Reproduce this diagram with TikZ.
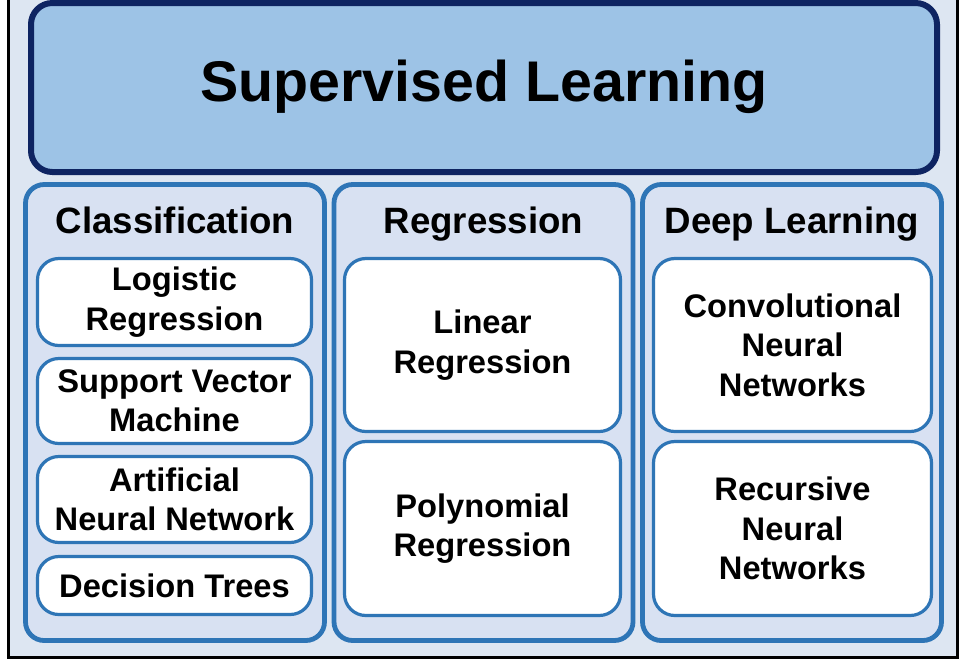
\documentclass[tikz,border=0pt]{standalone}
\usepackage{fontspec}
\setmainfont{Liberation Sans}
\usepackage{tikz}
\usetikzlibrary{positioning}
\definecolor{FrameFill}{RGB}{221,230,242}
\definecolor{TitleFill}{RGB}{157,195,230}
\definecolor{NavyDefault}{RGB}{14,36,98}
\definecolor{BlueDefault}{RGB}{46,117,182}
\definecolor{ColumnFill}{RGB}{216,225,242}

\begin{document}
\begin{tikzpicture}[x=0.75pt, y=-0.75pt,
    title/.style={draw=NavyDefault, line width=4.5pt, fill=TitleFill, rounded corners=16pt,
        minimum width=679.5pt, minimum height=126.75pt},
    titletext/.style={anchor=base, font=\fontsize{43}{50}\selectfont\bfseries},
    column/.style={draw=BlueDefault, line width=3.6pt, fill=ColumnFill, rounded corners=14pt,
        minimum width=224.25pt, minimum height=342pt},
    heading/.style={anchor=base, font=\fontsize{27.5}{32}\selectfont\bfseries},
    method/.style={draw=BlueDefault, line width=2.4pt, fill=white, rounded corners=16pt,
        align=center, inner sep=0pt, font=\fontsize{24.5}{29.5}\selectfont\bfseries}]
    \useasboundingbox (0,0) rectangle (971,669);
    %%Frame
    \draw[line width=2.25pt, fill=FrameFill] (8.5,-20) rectangle (957.5,657.5);
    %%Title
    \node[title] (supervised) at (484,87.5) {};
    \node[titletext] (supervisedtext) at (484,101) {Supervised Learning};
    %%Columns
    \node[column] (classification) at (175,412.5) {};
    \node[column] (regression) at (483.5,412.5) {};
    \node[column] (deep) at (792,412.5) {};
    \node[heading] (classhead) at (175,233) {Classification};
    \node[heading] (reghead) at (483.5,233) {Regression};
    \node[heading] (deephead) at (792,233) {Deep Learning};
    %%Classification methods
    \node[method, minimum width=205.5pt, minimum height=65.25pt] (logistic) at (174.5,302) {Logistic\\Regression};
    \node[method, minimum width=205.5pt, minimum height=63.75pt] (svm) at (174.5,401) {Support Vector\\Machine};
    \node[method, minimum width=205.5pt, minimum height=64.5pt] (ann) at (174.5,499.5) {Artificial\\Neural Network};
    \node[method, minimum width=205.5pt, minimum height=43.5pt] (trees) at (174.5,585.5) {Decision Trees};
    %%Regression methods
    \node[method, minimum width=207pt, minimum height=129.75pt] (linear) at (482.5,345) {Linear\\Regression};
    \node[method, minimum width=207pt, minimum height=130.5pt] (polynomial) at (482.5,528.5) {Polynomial\\Regression};
    %%Deep learning methods
    \node[method, minimum width=208.5pt, minimum height=129.75pt] (cnn) at (792.5,345) {Convolutional\\Neural\\Networks};
    \node[method, minimum width=208.5pt, minimum height=130.5pt] (rnn) at (792.5,528.5) {Recursive\\Neural\\Networks};
\end{tikzpicture}
\end{document}
